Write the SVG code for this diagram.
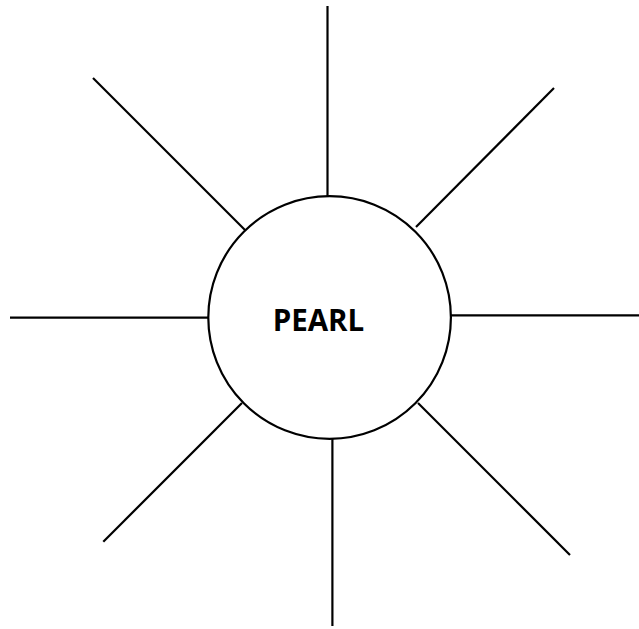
<svg xmlns="http://www.w3.org/2000/svg" width="639" height="629" viewBox="0 0 639 629">
<style>
.c{stroke:#000;stroke-width:2.2;fill:none;stroke-linecap:butt}
.n{fill:#fff;stroke:#000;stroke-width:2.2}
.t{font-family:"Open Sans","Liberation Sans",sans-serif;font-weight:bold;font-size:30px;fill:#000}
</style>
<rect width="639" height="629" fill="#fff"/>
<g id="connectors">
<line class="c" x1="327.5" y1="6" x2="327.5" y2="196"/>
<line class="c" x1="554" y1="88" x2="416" y2="227"/>
<line class="c" x1="451" y1="315.3" x2="639" y2="315.3"/>
<line class="c" x1="418" y1="403" x2="570" y2="555"/>
<line class="c" x1="332.4" y1="439" x2="332.4" y2="626"/>
<line class="c" x1="242" y1="403" x2="103.3" y2="541.7"/>
<line class="c" x1="10" y1="317.7" x2="209" y2="317.7"/>
<line class="c" x1="93" y1="78" x2="245" y2="230"/>
</g>
<g id="pearl">
<circle class="n" cx="329.6" cy="317.5" r="121.3"/>
<text class="t" x="318.5" y="330.7" text-anchor="middle" textLength="91.6" lengthAdjust="spacingAndGlyphs">PEARL</text>
</g>
</svg>
